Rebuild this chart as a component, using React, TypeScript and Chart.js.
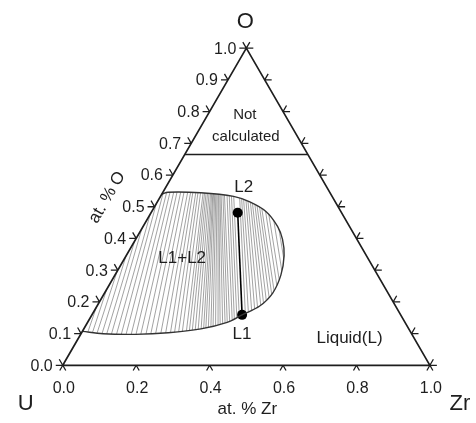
import React, { useEffect, useRef } from "react";
import { Chart, registerables } from "chart.js";

Chart.register(...registerables);

const SQ3_2 = Math.sqrt(3) / 2;

// Left (O) axis ticks and labels
const oTicks = [0, 0.1, 0.2, 0.3, 0.4, 0.5, 0.6, 0.7, 0.8, 0.9, 1.0];
const oTickLabels = ["0.0", "0.1", "0.2", "0.3", "0.4", "0.5", "0.6", "0.7", "0.8", "0.9", "1.0"];
// Bottom (Zr) axis ticks and labels
const zrTicks = [0, 0.2, 0.4, 0.6, 0.8, 1.0];
const zrTickLabels = ["0.0", "0.2", "0.4", "0.6", "0.8", "1.0"];
// Right side ticks (O fraction along Zr-O edge)
const rightTicks = [0, 0.1, 0.2, 0.3, 0.4, 0.5, 0.6, 0.7, 0.8, 0.9, 1.0];

// "Not calculated" boundary (at. fraction O)
const notCalcO = 0.665;

// Miscibility gap boundary (x_Zr, x_O)
const gapZr = [0.0, 0.06, 0.149, 0.236, 0.319, 0.38, 0.409, 0.443, 0.458, 0.452, 0.43, 0.4, 0.366, 0.312, 0.252, 0.199, 0.104, 0.014, 0.0];
const gapO = [0.107, 0.0994, 0.0976, 0.1025, 0.1148, 0.1355, 0.159, 0.1869, 0.2278, 0.2842, 0.3458, 0.3972, 0.4381, 0.4843, 0.5151, 0.5326, 0.544, 0.5459, 0.539];

// Highlighted tie line L1 - L2
const tieNames = ["L1", "L2"];
const tieZr = [0.409, 0.236];
const tieO = [0.159, 0.481];

// Hatching tie lines: x_Zr where each tie line crosses x_O = 0.10 and x_O = 0.55
const hatchOLow = 0.1;
const hatchOHigh = 0.55;
const hatchZrLow = [
  0.017, 0.03, 0.043, 0.057, 0.07, 0.083, 0.097, 0.11, 0.123, 0.137, 0.15, 0.163, 0.177, 0.19, 0.203, 0.217, 0.23, 0.243, 0.254, 0.265, 0.275, 0.286,
  0.294, 0.302, 0.31, 0.318, 0.326, 0.333, 0.339, 0.346, 0.353, 0.359, 0.366, 0.373, 0.379, 0.386, 0.393, 0.399, 0.406, 0.413, 0.419, 0.426, 0.433,
  0.45, 0.459, 0.469, 0.478, 0.487, 0.497, 0.506, 0.515, 0.525, 0.534, 0.543, 0.553, 0.563, 0.574, 0.585,
];
const hatchZrHigh = [
  -0.075, -0.067, -0.056, -0.048, -0.038, -0.03, -0.019, -0.011, 0.0, 0.009, 0.018, 0.028, 0.037, 0.047, 0.056, 0.066, 0.074, 0.08, 0.088, 0.094, 0.101, 0.108,
  0.112, 0.116, 0.12, 0.124, 0.128, 0.131, 0.134, 0.136, 0.139, 0.142, 0.145, 0.148, 0.15, 0.153, 0.156, 0.161, 0.165, 0.172, 0.178, 0.184, 0.19,
  0.206, 0.211, 0.216, 0.222, 0.227, 0.233, 0.238, 0.244, 0.249, 0.255, 0.26, 0.269, 0.276, 0.287, 0.297,
];

// Region labels (text, x_Zr, x_O)
const regionLabels = ["L2", "L1", "L1+L2", "Liquid(L)"];
const regionLabelZr = [0.213, 0.439, 0.156, 0.738];
const regionLabelO = [0.56, 0.0985, 0.3387, 0.0862];

const FONT = "'Liberation Sans', Arial, Helvetica, sans-serif";
const INK = "#1e1e1e";

const toXY = (zr: number, o: number) => ({ x: zr + o / 2, y: o * SQ3_2 });

const ternaryPlugin = {
  id: "ternaryDecor",
  beforeDatasetsDraw(chart: any) {
    const ctx: CanvasRenderingContext2D = chart.ctx;
    const xs = chart.scales.x;
    const ys = chart.scales.y;
    const P = (zr: number, o: number) => [xs.getPixelForValue(zr + o / 2), ys.getPixelForValue(o * SQ3_2)];
    ctx.save();
    ctx.beginPath();
    let ok = false;
    try {
      const line = chart.getDatasetMeta(2).dataset;
      line.updateControlPoints(chart.chartArea, "x");
      line.path(ctx);
      ok = true;
    } catch (e) {
      ok = false;
    }
    if (!ok) {
      ctx.beginPath();
      gapZr.forEach((z, i) => {
        const [x, y] = P(z, gapO[i]);
        if (i === 0) ctx.moveTo(x, y);
        else ctx.lineTo(x, y);
      });
    }
    ctx.closePath();
    ctx.clip();
    ctx.strokeStyle = "#7a7a7a";
    ctx.lineWidth = 0.7;
    ctx.beginPath();
    for (let i = 0; i < hatchZrLow.length; i++) {
      const [x1, y1] = P(hatchZrLow[i], hatchOLow);
      const [x2, y2] = P(hatchZrHigh[i], hatchOHigh);
      const dx = x2 - x1;
      const dy = y2 - y1;
      ctx.moveTo(x1 - dx * 0.15, y1 - dy * 0.15);
      ctx.lineTo(x2 + dx * 0.15, y2 + dy * 0.15);
    }
    ctx.stroke();
    ctx.restore();
  },
  afterDatasetsDraw(chart: any) {
    const ctx: CanvasRenderingContext2D = chart.ctx;
    const xs = chart.scales.x;
    const ys = chart.scales.y;
    const P = (zr: number, o: number) => [xs.getPixelForValue(zr + o / 2), ys.getPixelForValue(o * SQ3_2)];
    const c60 = 0.5;
    const s60 = SQ3_2;
    ctx.save();
    ctx.strokeStyle = INK;
    ctx.lineWidth = 1.3;
    ctx.beginPath();
    const TL = 7;
    // left edge ticks: horizontal left + up-left
    oTicks.forEach((o) => {
      const [x, y] = P(0, o);
      ctx.moveTo(x, y);
      ctx.lineTo(x - TL, y);
      ctx.moveTo(x, y);
      ctx.lineTo(x - TL * c60, y - TL * s60);
    });
    // right edge ticks: horizontal right + up-right
    rightTicks.forEach((o) => {
      const [x, y] = P(1 - o, o);
      ctx.moveTo(x, y);
      ctx.lineTo(x + TL, y);
      ctx.moveTo(x, y);
      ctx.lineTo(x + TL * c60, y - TL * s60);
    });
    // bottom ticks: down-left + down-right
    const BL = 6;
    zrTicks.forEach((z) => {
      const [x, y] = P(z, 0);
      ctx.moveTo(x, y);
      ctx.lineTo(x - BL * c60, y + BL * s60);
      ctx.moveTo(x, y);
      ctx.lineTo(x + BL * c60, y + BL * s60);
    });
    ctx.stroke();

    ctx.fillStyle = INK;
    // left tick labels
    ctx.font = `16px ${FONT}`;
    ctx.textAlign = "right";
    ctx.textBaseline = "middle";
    oTicks.forEach((o, i) => {
      const [x, y] = P(0, o);
      ctx.fillText(oTickLabels[i], x - 10, y + 1);
    });
    // bottom tick labels
    ctx.textAlign = "center";
    zrTicks.forEach((z, i) => {
      const [x, y] = P(z, 0);
      ctx.fillText(zrTickLabels[i], x + 1, y + 23);
    });
    // vertex labels
    ctx.font = `22px ${FONT}`;
    {
      const [ox, oy] = P(0, 1);
      ctx.fillText("O", ox - 1, oy - 26);
      const [ux, uy] = P(0, 0);
      ctx.fillText("U", ux - 37, uy + 39);
      const [zx, zy] = P(1, 0);
      ctx.fillText("Zr", zx + 30, zy + 39);
    }
    // axis titles
    ctx.font = `17px ${FONT}`;
    {
      const [bx, by] = P(0.5, 0);
      ctx.fillText("at. % Zr", bx + 1, by + 44);
      const [lx, ly] = P(0, 0.52);
      ctx.save();
      ctx.translate(lx - 51, ly - 3);
      ctx.rotate(-Math.PI / 3);
      ctx.fillText("at. % O", 0, 0);
      ctx.restore();
    }
    // "Not calculated"
    ctx.font = `15px ${FONT}`;
    {
      const [nx, ny] = P(0.1005, 0.791);
      ctx.fillText("Not", nx, ny);
      const [cx, cy] = P(0.1385, 0.7204);
      ctx.fillText("calculated", cx, cy);
    }
    // region labels
    ctx.font = `17px ${FONT}`;
    regionLabels.forEach((t, i) => {
      const [x, y] = P(regionLabelZr[i], regionLabelO[i]);
      ctx.fillText(t, x, y);
    });
    ctx.restore();
  },
};

export default function App() {
  const ref = useRef<HTMLCanvasElement | null>(null);
  useEffect(() => {
    if (!ref.current) return;
    const triangle = [toXY(0, 0), toXY(1, 0), toXY(0, 1), toXY(0, 0)];
    const notCalc = [toXY(0, notCalcO), toXY(1 - notCalcO, notCalcO)];
    const gap = gapZr.map((z, i) => toXY(z, gapO[i]));
    const tie = tieZr.map((z, i) => toXY(z, tieO[i]));
    const chart = new Chart(ref.current, {
      type: "scatter",
      data: {
        datasets: [
          { label: "triangle", data: triangle, showLine: true, borderColor: INK, borderWidth: 1.7, pointRadius: 0, clip: false } as any,
          { label: "not calculated", data: notCalc, showLine: true, borderColor: INK, borderWidth: 1.5, pointRadius: 0, clip: false } as any,
          { label: "miscibility gap", data: gap, showLine: true, tension: 0.35, borderColor: "#333", borderWidth: 1.4, pointRadius: 0, clip: false } as any,
          {
            label: tieNames.join("-"),
            data: tie,
            showLine: true,
            borderColor: "#000",
            borderWidth: 1.6,
            pointRadius: 5,
            pointBackgroundColor: "#000",
            pointBorderColor: "#000",
            pointBorderWidth: 0,
            clip: false,
          } as any,
        ],
      },
      options: {
        animation: false,
        responsive: false,
        events: [],
        layout: { padding: 0 },
        scales: {
          x: { type: "linear", min: -59 / 375, max: 417 / 375, display: false },
          y: { type: "linear", min: -54 / 375, max: 369 / 375, display: false },
        },
        plugins: { legend: { display: false }, tooltip: { enabled: false } },
      },
      plugins: [ternaryPlugin],
    });
    return () => chart.destroy();
  }, []);
  return (
    <div style={{ position: "absolute", left: 0, top: 0, width: 476, height: 423, background: "#fff" }}>
      <canvas ref={ref} width={476} height={423} style={{ display: "block", width: 476, height: 423 }} />
    </div>
  );
}
